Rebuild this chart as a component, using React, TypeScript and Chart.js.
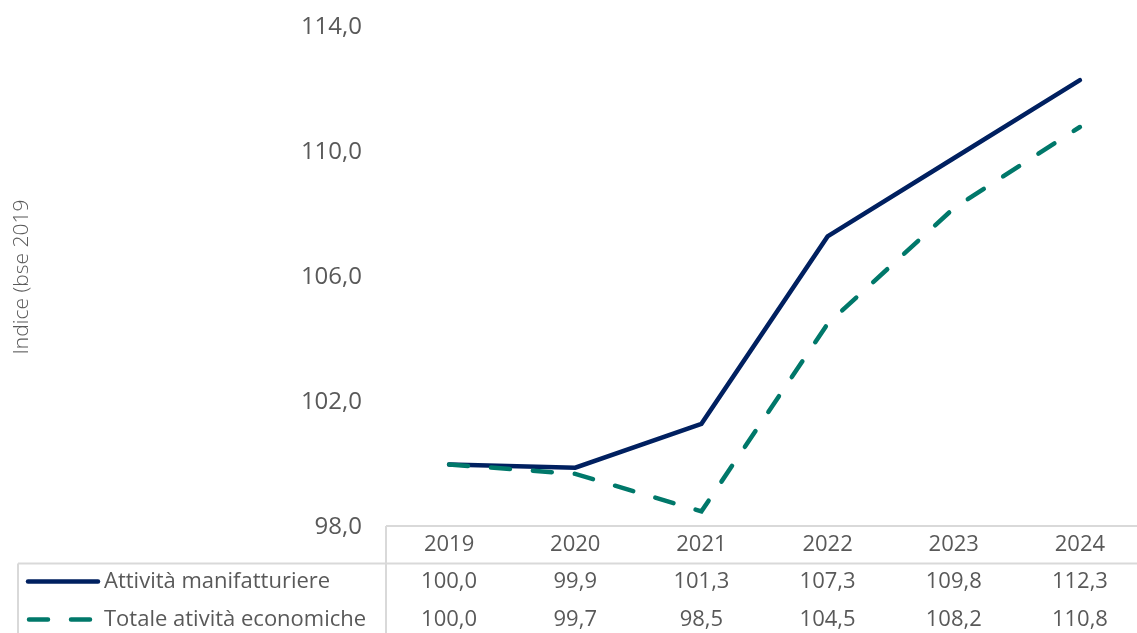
import React, { useEffect, useRef } from "react";
import { Chart, registerables } from "chart.js";

Chart.register(...registerables);

const years = ["2019", "2020", "2021", "2022", "2023", "2024"];
const manifatturiere = [100.0, 99.9, 101.3, 107.3, 109.8, 112.3];
const totale = [100.0, 99.7, 98.5, 104.5, 108.2, 110.8];
const seriesNames = ["Attività manifatturiere", "Totale atività economiche"];
const yTitle = "Indice (bse 2019";

const NAVY = "#002060";
const TEAL = "#00786A";
const TEXT = "#595959";
const LINE = "#D9D9D9";
const FONT = "'Open Sans', 'DejaVu Sans', sans-serif";

const fmt = (v: number) => v.toFixed(1).replace(".", ",");

const tablePlugin = {
  id: "dataTable",
  afterDraw(chart: any) {
    const ctx = chart.ctx as CanvasRenderingContext2D;
    const area = chart.chartArea;
    const x = chart.scales.x;
    const H = chart.height;
    const top = 526;
    const rowH = 37.5;
    const headBottom = top + rowH;
    const tableLeft = 18;
    ctx.save();
    ctx.strokeStyle = LINE;
    ctx.lineWidth = 2;
    ctx.beginPath();
    ctx.moveTo(area.left, top);
    ctx.lineTo(chart.width, top);
    ctx.moveTo(area.left, top);
    ctx.lineTo(area.left, H);
    ctx.moveTo(tableLeft, headBottom);
    ctx.lineTo(chart.width, headBottom);
    ctx.moveTo(tableLeft, headBottom);
    ctx.lineTo(tableLeft, H);
    ctx.stroke();

    ctx.fillStyle = TEXT;
    ctx.font = `22px ${FONT}`;
    ctx.textAlign = "center";
    ctx.textBaseline = "middle";
    const headY = top + rowH / 2;
    const rowYs = [headBottom + 18, headBottom + 56];
    years.forEach((y, i) => {
      ctx.fillText(y, x.getPixelForValue(i), headY);
    });
    const data = [manifatturiere, totale];
    data.forEach((arr, r) => {
      arr.forEach((v, i) => {
        ctx.fillText(fmt(v), x.getPixelForValue(i), rowYs[r]);
      });
    });
    // legend keys
    ctx.lineWidth = 4.5;
    ctx.lineCap = "round";
    ctx.strokeStyle = NAVY;
    ctx.beginPath();
    ctx.moveTo(28, rowYs[0]);
    ctx.lineTo(98, rowYs[0]);
    ctx.stroke();
    ctx.strokeStyle = TEAL;
    ctx.setLineDash([19, 23]);
    ctx.beginPath();
    ctx.moveTo(29, rowYs[1]);
    ctx.lineTo(92, rowYs[1]);
    ctx.stroke();
    ctx.setLineDash([]);
    ctx.textAlign = "left";
    ctx.fillText(seriesNames[0], 104, rowYs[0]);
    ctx.fillText(seriesNames[1], 104, rowYs[1]);
    ctx.restore();
  },
};

export default function App() {
  const ref = useRef<HTMLCanvasElement>(null);
  useEffect(() => {
    document.body.style.margin = "0";
    document.body.style.overflow = "hidden";
    document.documentElement.style.overflow = "hidden";
    const chart = new Chart(ref.current!, {
      type: "line",
      data: {
        labels: years,
        datasets: [
          {
            label: seriesNames[1],
            data: totale,
            borderColor: TEAL,
            borderWidth: 4.5,
            borderDash: [19, 23],
            borderCapStyle: "round",
            pointRadius: 0,
            tension: 0,
            order: 0,
          },
          {
            label: seriesNames[0],
            data: manifatturiere,
            borderColor: NAVY,
            borderWidth: 4.5,
            borderCapStyle: "round",
            pointRadius: 0,
            tension: 0,
            order: 1,
          },
        ],
      },
      options: {
        animation: false,
        responsive: false,
        layout: { padding: { top: 27, bottom: 106, left: 0, right: 0 } },
        plugins: { legend: { display: false }, tooltip: { enabled: false } },
        scales: {
          x: {
            display: false,
            offset: true,
          },
          y: {
            min: 98,
            max: 114,
            border: { display: false },
            grid: { display: false, drawTicks: false },
            ticks: {
              stepSize: 4,
              padding: 24,
              color: TEXT,
              font: { family: FONT, size: 24 },
              callback: (v: any) => fmt(Number(v)),
            },
            title: {
              display: true,
              text: yTitle,
              color: TEXT,
              font: { family: FONT, size: 21, weight: "300" },
              padding: { top: 9, bottom: 0 },
            },
            afterFit: (s: any) => {
              s.width = 386;
              s.paddingTop = 0;
              s.paddingBottom = 0;
            },
          },
        },
      },
      plugins: [tablePlugin],
    });
    return () => chart.destroy();
  }, []);
  return (
    <div style={{ width: 1143, height: 633 }}>
      <canvas ref={ref} width={1143} height={633} style={{ display: "block" }} />
    </div>
  );
}
